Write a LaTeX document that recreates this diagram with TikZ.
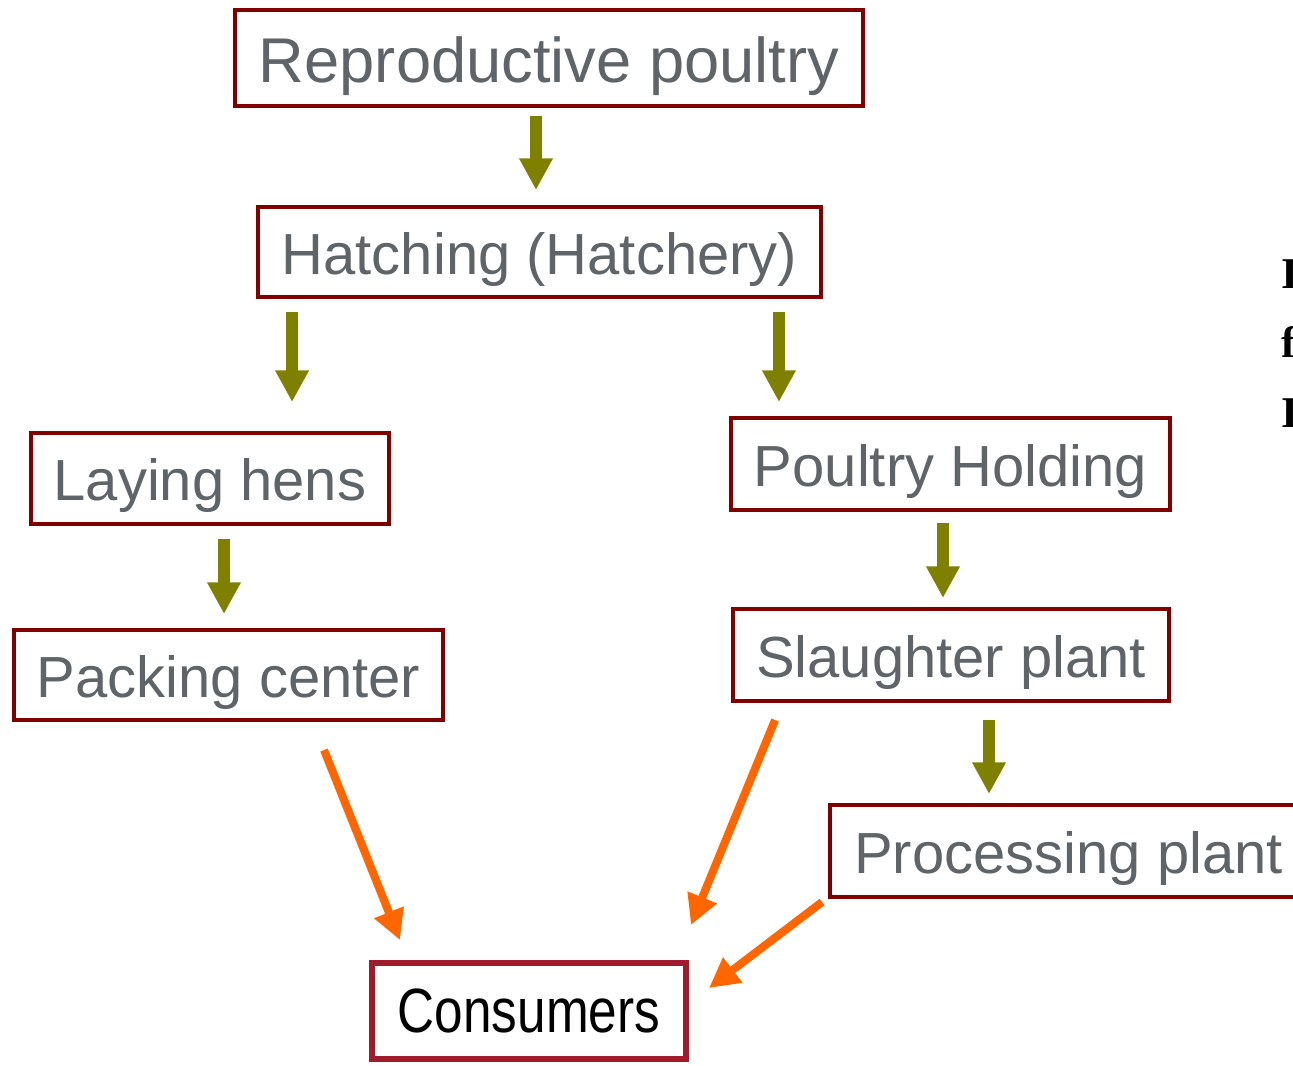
\documentclass[tikz,border=0pt]{standalone}
\usepackage{fontspec}
\setmainfont{Liberation Sans}
\newfontfamily\narrowfont[FakeStretch=0.82]{Liberation Sans}
\newfontfamily\notefont{Liberation Serif}
\usetikzlibrary{calc,arrows.meta}
\definecolor{boxred}{HTML}{800000}
\definecolor{consred}{HTML}{A01C2C}
\definecolor{textgray}{HTML}{5F6468}
\definecolor{flowolive}{HTML}{808000}
\definecolor{floworange}{HTML}{FF6600}

\begin{document}
\begin{tikzpicture}[x=0.02cm, y=-0.02cm,
    stage/.style={draw=boxred, line width=2.27pt, fill=white, text=textgray,
        inner sep=0pt, text height=26.4pt, text depth=1.3pt,
        font=\fontsize{33}{38}\selectfont},
    consumer/.style={draw=consred, line width=3.4pt, fill=white, text=black,
        inner sep=0pt, font=\narrowfont\fontsize{35.6}{40}\selectfont},
    down/.style={draw=flowolive, line width=6.8pt,
        -{Triangle[width=18pt, length=18pt]}},
    sale/.style={draw=floworange, line width=4.6pt,
        -{Triangle[width=17pt, length=17pt]}}]
    \useasboundingbox (0,0) rectangle (1293,1065);
    % production chain
    \node[stage, minimum width=12.56cm, minimum height=1.92cm, text height=28.8pt, text depth=1.4pt,
        font=\fontsize{36}{40}\selectfont] (repro) at (549,58) {Reproductive poultry};
    \node[stage, minimum width=11.26cm, minimum height=1.8cm] (hatch) at (539.5,252) {Hatching (Hatchery)};
    \node[stage, minimum width=7.16cm, minimum height=1.82cm] (laying) at (210,478.5) {Laying hens};
    \node[stage, minimum width=8.58cm, minimum height=1.8cm] (packing) at (228.5,675) {Packing center};
    \node[stage, minimum width=8.78cm, minimum height=1.84cm] (holding) at (950.5,464) {Poultry Holding};
    \node[stage, minimum width=8.72cm, minimum height=1.84cm] (slaughter) at (951,655) {Slaughter plant};
    \node[stage, minimum width=9.54cm, minimum height=1.84cm] (processing) at (1068.5,851) {Processing plant};
    \node[consumer, minimum width=6.28cm, minimum height=1.92cm] (consumers) at (529,1011) {Consumers};
    % clipped side note
    \node[anchor=north west, inner sep=0pt, align=left,
        font=\notefont\bfseries\fontsize{25}{39.7}\selectfont] (note) at (1281,259) {I\\f\\I};

    \draw[down] ($(repro.south)+(-13,8)$) -- ($(repro.south)+(-13,82)$);
    \draw[down] ($(hatch.south west)+(36,13)$) -- ($(hatch.south west)+(36,103)$);
    \draw[down] ($(hatch.south east)+(-44,13)$) -- ($(hatch.south east)+(-44,103)$);
    \draw[down] ($(laying.south)+(14,13)$) -- ($(laying.south)+(14,88)$);
    \draw[down] ($(holding.south)+(-7.5,11)$) -- ($(holding.south)+(-7.5,86)$);
    \draw[down] ($(slaughter.south)+(38,17)$) -- ($(slaughter.south)+(38,91)$);

    \draw[sale] ($(packing.south)+(95.5,28)$) -- ($(consumers.north)+(-129,-20)$);
    \draw[sale] ($(slaughter.south west)+(44,17)$) -- ($(consumers.north east)+(2,-35)$);
    \draw[sale] ($(processing.south west)+(-6,3)$) -- ($(consumers.east)+(20,-23)$);
\end{tikzpicture}
\end{document}
